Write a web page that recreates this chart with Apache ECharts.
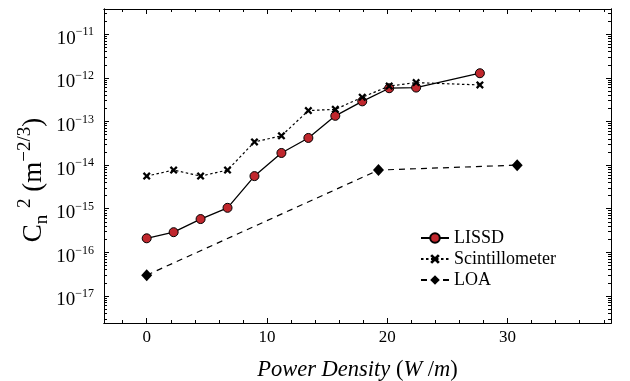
<!DOCTYPE html>
<html><head><meta charset="utf-8">
<script src="https://cdn.jsdelivr.net/npm/echarts@6/dist/echarts.min.js"></script>
<style>html,body{margin:0;padding:0;background:#fff}#c{width:630px;height:381px}</style>
</head><body><div id="c"></div>
<script>
const powerDensity = [0, 2.24, 4.48, 6.72, 8.96, 11.2, 13.44, 15.68, 17.92, 20.16, 22.4, 27.7];
const lissd = [2.1e-16, 2.9e-16, 5.8e-16, 1.05e-15, 5.6e-15, 1.9e-14, 4.2e-14, 1.35e-13, 2.9e-13, 5.8e-13, 6.0e-13, 1.28e-12];
const scintillometer = [5.6e-15, 7.7e-15, 5.6e-15, 7.7e-15, 3.4e-14, 4.7e-14, 1.78e-13, 1.9e-13, 3.6e-13, 6.5e-13, 7.8e-13, 6.9e-13];
const loaX = [0, 19.27, 30.8];
const loa = [3.0e-17, 7.7e-15, 1.0e-14];
const xMajorTicks = [0, 10, 20, 30];
const xMinorTicks = [-2, 2, 4, 6, 8, 12, 14, 16, 18, 22, 24, 26, 28, 32, 34, 36, 38];
const yMajorTicks = [1e-17, 1e-16, 1e-15, 1e-14, 1e-13, 1e-12, 1e-11];
const yMinorTicks = [];
for (let e = -18; e <= -11; e++) for (let m = 2; m <= 9; m++) yMinorTicks.push(m * Math.pow(10, e));

const FONT = 'Liberation Serif';
const XMIN = -3.55, XMAX = 38.6;
const YMIN = Math.pow(10, -17.62), YMAX = Math.pow(10, -10.42);
const toPairs = (xs, ys) => xs.map((x, i) => [x, ys[i]]);
const xCross = 'path://M2,0 L5,3 L8,0 L10,2 L7,5 L10,8 L8,10 L5,7 L2,10 L0,8 L3,5 L0,2 Z';

function xAxisDef(pos, ticks, len, labels) {
  return {
    type: 'value', position: pos, min: XMIN, max: XMAX,
    axisLine: {show: true, onZero: false, lineStyle: {color: '#000', width: 1}},
    axisTick: {show: true, inside: true, length: len, customValues: ticks, lineStyle: {color: '#000', width: 1}},
    axisLabel: labels ? {show: true, customValues: xMajorTicks, margin: 6, color: '#000', fontFamily: FONT, fontSize: 17} : {show: false},
    splitLine: {show: false}
  };
}
function yAxisDef(pos, ticks, len, labels) {
  return {
    type: 'log', position: pos, min: YMIN, max: YMAX, logBase: 10,
    axisLine: {show: true, onZero: false, lineStyle: {color: '#000', width: 1}},
    axisTick: {show: true, inside: true, length: len, customValues: ticks, lineStyle: {color: '#000', width: 1}},
    axisLabel: labels ? {
      show: true, customValues: yMajorTicks, margin: 10, padding: [6, 0, 0, 0],
      formatter: v => '{b|10}{s|' + '\u2212' + Math.abs(Math.round(Math.log10(v))) + '}',
      rich: {
        b: {fontFamily: FONT, fontSize: 19, color: '#000', verticalAlign: 'bottom', lineHeight: 22},
        s: {fontFamily: FONT, fontSize: 12, color: '#000', verticalAlign: 'top', lineHeight: 22}
      }
    } : {show: false},
    splitLine: {show: false}
  };
}

const chart = echarts.init(document.getElementById('c'), null, {renderer: 'canvas'});
chart.setOption({
  animation: false,
  backgroundColor: '#fff',
  grid: {left: 104, right: 19, top: 9, bottom: 58, containLabel: false, outerBoundsMode: 'none'},
  xAxis: [
    Object.assign(xAxisDef('bottom', xMajorTicks, 5, true), {
      name: '{i|Power Density}{r| (}{i|W}{r| /}{i|m}{r|)}',
      nameLocation: 'middle', nameGap: 36,
      nameTextStyle: {rich: {
        i: {fontFamily: FONT, fontStyle: 'italic', fontSize: 22.5, color: '#000'},
        r: {fontFamily: FONT, fontSize: 22.5, color: '#000'}
      }}
    }),
    xAxisDef('bottom', xMinorTicks, 3, false),
    xAxisDef('top', xMajorTicks, 5, false),
    xAxisDef('top', xMinorTicks, 3, false)
  ],
  yAxis: [
    yAxisDef('left', yMajorTicks, 5, true),
    yAxisDef('left', yMinorTicks, 3, false),
    yAxisDef('right', yMajorTicks, 5, false),
    yAxisDef('right', yMinorTicks, 3, false)
  ],
  legend: {
    orient: 'vertical', left: 415, top: 224, itemWidth: 28, itemHeight: 12, itemGap: 3,
    textStyle: {fontFamily: FONT, fontSize: 18, color: '#000'},
    data: ['LISSD', 'Scintillometer', 'LOA']
  },
  graphic: [{
    type: 'text', x: 34, y: 180, rotation: Math.PI / 2,
    style: {
      text: '{c|C}{n|n}{c| }{s|2}{c| (m}{s|\u22122/3}{c|)}',
      align: 'center', verticalAlign: 'middle',
      rich: {
        c: {fontFamily: FONT, fontSize: 27, fill: '#000', verticalAlign: 'middle', lineHeight: 36},
        n: {fontFamily: FONT, fontSize: 19, fill: '#000', verticalAlign: 'bottom', lineHeight: 36},
        s: {fontFamily: FONT, fontSize: 19, fill: '#000', verticalAlign: 'top', lineHeight: 36}
      }
    }
  }],
  series: [
    {
      name: 'LISSD', type: 'line', data: toPairs(powerDensity, lissd),
      symbol: 'circle', symbolSize: 9, showAllSymbol: true,
      lineStyle: {color: '#000', width: 1.3, type: 'solid'},
      itemStyle: {color: '#c0272d', borderColor: '#000', borderWidth: 1}
    },
    {
      name: 'Scintillometer', type: 'line', data: toPairs(powerDensity, scintillometer),
      symbol: xCross, symbolSize: 8, showAllSymbol: true,
      lineStyle: {color: '#000', width: 1.2, type: [2.5, 2.5]},
      itemStyle: {color: '#000'}
    },
    {
      name: 'LOA', type: 'line', data: toPairs(loaX, loa),
      symbol: 'diamond', symbolSize: [11, 12], showAllSymbol: true,
      lineStyle: {color: '#000', width: 1.2, type: [6, 5]},
      itemStyle: {color: '#000'}
    }
  ]
});
</script></body></html>
